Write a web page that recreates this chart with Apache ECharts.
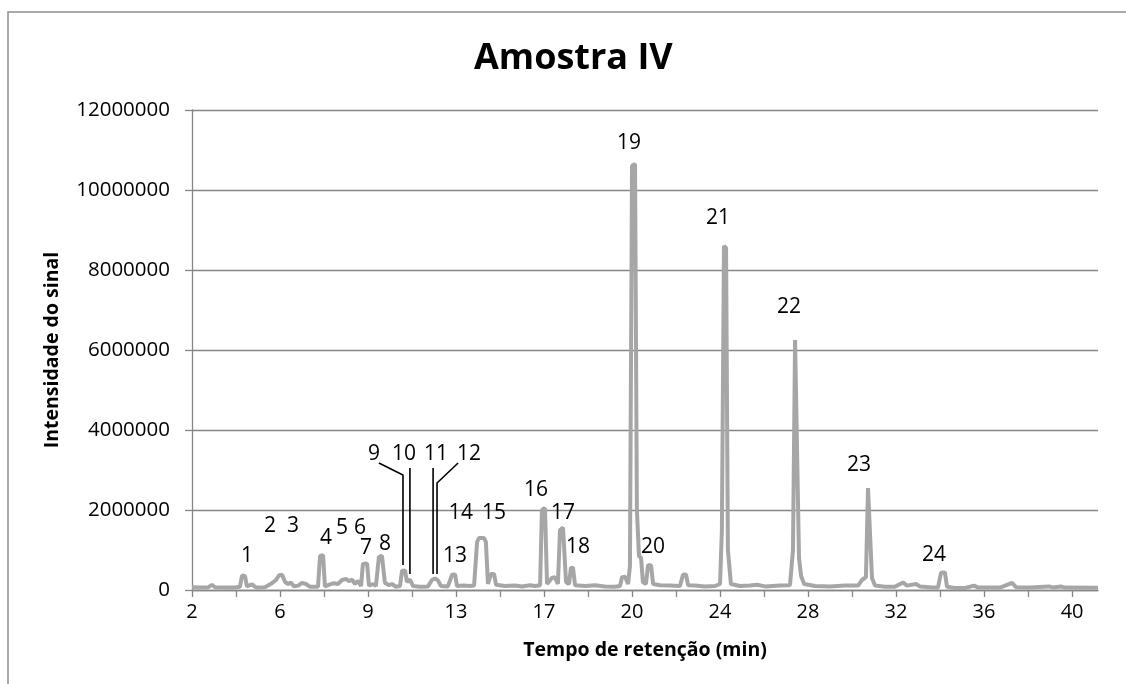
<!DOCTYPE html>
<html><head><meta charset="utf-8">
<script src="https://cdn.jsdelivr.net/npm/echarts@6/dist/echarts.min.js"></script>
<style>html,body{margin:0;padding:0;background:#fff}#c{width:1126px;height:684px}</style>
</head><body><div id="c"></div>
<script>
// ---- data ----
const RETENTION_TIME = [
  2.00, 2.35, 2.69, 2.86, 2.99, 3.42, 3.86, 4.07, 4.16, 4.29,
  4.37, 4.59, 4.76, 5.15, 5.45, 5.63, 5.76, 5.89, 6.02, 6.15,
  6.27, 6.40, 6.58, 6.75, 6.92, 7.10, 7.44, 7.53, 7.66, 7.74,
  7.96, 8.13, 8.30, 8.48, 8.65, 8.78, 8.91, 9.04, 9.17, 9.30,
  9.38, 9.56, 9.64, 9.82, 9.94, 10.07, 10.20, 10.33, 10.51, 10.64,
  10.81, 10.98, 11.07, 11.20, 11.28, 11.41, 11.54, 11.84, 12.19, 12.36,
  12.49, 12.62, 12.75, 13.05, 13.23, 13.36, 13.44, 13.74, 14.00, 14.18,
  14.31, 14.39, 14.61, 14.69, 14.78, 14.91, 15.04, 15.13, 15.51, 15.95,
  16.25, 16.59, 16.81, 17.03, 17.11, 17.24, 17.33, 17.54, 17.67, 17.80,
  17.89, 18.02, 18.15, 18.28, 18.36, 18.45, 18.54, 18.97, 19.40, 19.83,
  20.26, 20.48, 20.57, 20.70, 20.83, 20.91, 21.00, 21.13, 21.21, 21.30,
  21.39, 21.47, 21.60, 21.69, 21.82, 21.91, 22.21, 22.64, 23.07, 23.20,
  23.33, 23.42, 23.72, 24.15, 24.58, 24.80, 24.88, 24.97, 25.06, 25.14,
  25.27, 25.66, 26.09, 26.40, 26.74, 27.39, 27.82, 27.95, 28.04, 28.12,
  28.21, 28.30, 28.43, 28.90, 29.55, 30.20, 30.76, 30.93, 31.10, 31.19,
  31.27, 31.36, 31.49, 31.92, 32.35, 32.70, 32.87, 33.26, 33.43, 33.87,
  34.21, 34.34, 34.51, 34.60, 34.94, 35.38, 35.77, 35.94, 36.89, 37.41,
  37.58, 38.18, 39.00, 39.18, 39.52, 39.69, 41.12
];
const INTENSITY = [
  70000, 60000, 65000, 130000, 70000, 60000, 65000, 80000, 360000, 350000,
  90000, 140000, 65000, 70000, 170000, 250000, 370000, 380000, 200000, 150000,
  190000, 90000, 110000, 180000, 150000, 80000, 80000, 850000, 870000, 90000,
  140000, 170000, 150000, 250000, 280000, 220000, 260000, 150000, 230000, 100000,
  650000, 660000, 110000, 150000, 100000, 820000, 860000, 180000, 120000, 150000,
  80000, 100000, 480000, 490000, 200000, 260000, 100000, 80000, 90000, 250000,
  290000, 240000, 100000, 90000, 380000, 390000, 100000, 110000, 100000, 110000,
  1200000, 1300000, 1300000, 1200000, 150000, 400000, 400000, 130000, 100000, 110000,
  90000, 120000, 100000, 120000, 2000000, 2050000, 150000, 300000, 320000, 150000,
  1500000, 1560000, 200000, 150000, 550000, 560000, 120000, 100000, 120000, 90000,
  80000, 100000, 320000, 330000, 150000, 600000, 10600000, 10650000, 2000000, 850000,
  800000, 200000, 150000, 620000, 620000, 150000, 120000, 110000, 100000, 380000,
  390000, 120000, 110000, 90000, 100000, 150000, 1500000, 8600000, 8550000, 1000000,
  150000, 100000, 110000, 130000, 90000, 110000, 120000, 1000000, 6250000, 6200000,
  800000, 350000, 150000, 100000, 90000, 110000, 110000, 250000, 320000, 2550000,
  2500000, 300000, 110000, 80000, 80000, 190000, 110000, 150000, 90000, 70000,
  60000, 430000, 440000, 80000, 50000, 50000, 110000, 60000, 60000, 180000,
  70000, 60000, 90000, 60000, 90000, 60000, 55000
];
const X_TICK_LABELS = ['2', '6', '9', '13', '17', '20', '24', '28', '32', '36', '40'];
const PEAK_NAMES = ['1','2','3','4','5','6','7','8','9','10','11','12','13','14','15','16','17','18','19','20','21','22','23','24'];
const PEAK_LABEL_TIME = [4.37, 5.37, 6.36, 7.79, 8.48, 9.25, 9.51, 10.33, 9.86, 11.15, 12.54, 13.96,
  13.36, 13.61, 15.04, 16.85, 18.02, 18.67, 20.87, 21.91, 24.71, 27.78, 30.80, 34.04];
const PEAK_LABEL_INTENSITY = [850000, 1600000, 1600000, 1300000, 1550000, 1550000, 1050000, 1150000,
  3400000, 3400000, 3400000, 3400000, 850000, 1925000, 1925000, 2500000, 1925000, 1075000,
  11175000, 1075000, 9300000, 7075000, 3125000, 875000];
// leader lines for peaks 9, 10, 11, 12
const LEADER_TIME = [[10.07, 11.11, 11.11], [11.41, 11.41], [12.41, 12.41], [13.49, 12.58, 12.58]];
const LEADER_INTENSITY = [[3175000, 2875000, 625000], [3050000, 400000], [3050000, 400000], [3175000, 2675000, 400000]];

const X_MIN = 2, X_MAX = 41.12, X_STEP = 1.9;
const FONT = '"Open Sans", "Liberation Sans", sans-serif';

const tickValues = [];
for (let i = 0; i <= 20; i++) tickValues.push(+(X_MIN + i * X_STEP).toFixed(2));
const labelValues = X_TICK_LABELS.map((_, i) => +(X_MIN + i * 2 * X_STEP).toFixed(2));

const chart = echarts.init(document.getElementById('c'), null, { renderer: 'canvas' });
chart.setOption({
  animation: false,
  backgroundColor: '#fff',
  title: {
    text: 'Amostra IV', left: 469, top: 36,
    textStyle: { fontFamily: FONT, fontSize: 36, fontWeight: 'bold', color: '#000' }
  },
  graphic: [{
    type: 'rect', silent: true, z: -1,
    shape: { x: 8, y: 12, width: 1400, height: 1000 },
    style: { fill: 'none', stroke: '#8f8f8f', lineWidth: 1.5 }
  }],
  grid: { left: 192, right: 28, top: 110, bottom: 94, containLabel: false },
  xAxis: {
    type: 'value', min: X_MIN, max: X_MAX,
    name: 'Tempo de retenção (min)', nameLocation: 'middle', nameGap: 50,
    nameTextStyle: { fontFamily: FONT, fontSize: 19.5, fontWeight: 'bold', color: '#000' },
    axisLine: { lineStyle: { color: '#868686', width: 1.3 } },
    axisTick: { show: true, length: 7, customValues: tickValues, lineStyle: { color: '#868686', width: 1.3 } },
    axisLabel: {
      customValues: labelValues, margin: 12,
      fontFamily: FONT, fontSize: 20, color: '#000',
      formatter: v => {
        const i = labelValues.findIndex(t => Math.abs(t - v) < 1e-6);
        return i >= 0 ? X_TICK_LABELS[i] : '';
      }
    },
    splitLine: { show: false }
  },
  yAxis: {
    type: 'value', min: 0, max: 12000000, interval: 2000000,
    name: 'Intensidade do sinal', nameLocation: 'middle', nameGap: 130,
    nameTextStyle: { fontFamily: FONT, fontSize: 19.5, fontWeight: 'bold', color: '#000' },
    axisLine: { show: true, lineStyle: { color: '#868686', width: 1.3 } },
    axisTick: { show: true, length: 7, lineStyle: { color: '#868686', width: 1.3 } },
    axisLabel: { margin: 22, fontFamily: FONT, fontSize: 20.5, color: '#000', formatter: v => String(v) },
    splitLine: { show: true, lineStyle: { color: '#868686', width: 1.3 } }
  },
  series: [
    {
      type: 'line', name: 'Amostra IV',
      data: RETENTION_TIME.map((t, i) => [t, INTENSITY[i]]),
      showSymbol: false, symbol: 'none', smooth: false,
      lineStyle: { color: '#a6a6a6', width: 4 },
      itemStyle: { color: '#a6a6a6' },
      z: 3
    },
    {
      type: 'lines', coordinateSystem: 'cartesian2d', polyline: true,
      data: LEADER_TIME.map((xs, i) => ({ coords: xs.map((x, j) => [x, LEADER_INTENSITY[i][j]]) })),
      lineStyle: { color: '#000', width: 1.6, opacity: 1 },
      z: 4
    },
    {
      type: 'scatter', symbolSize: 0,
      itemStyle: { color: '#000', opacity: 1 },
      data: PEAK_NAMES.map((n, i) => ({ name: n, value: [PEAK_LABEL_TIME[i], PEAK_LABEL_INTENSITY[i]] })),
      label: {
        show: true, position: 'inside', formatter: '{b}',
        fontFamily: FONT, fontSize: 21, color: '#000', opacity: 1,
        textBorderWidth: 0, textBorderColor: 'transparent'
      },
      emphasis: { disabled: true },
      z: 5
    }
  ]
});
</script>
</body></html>
